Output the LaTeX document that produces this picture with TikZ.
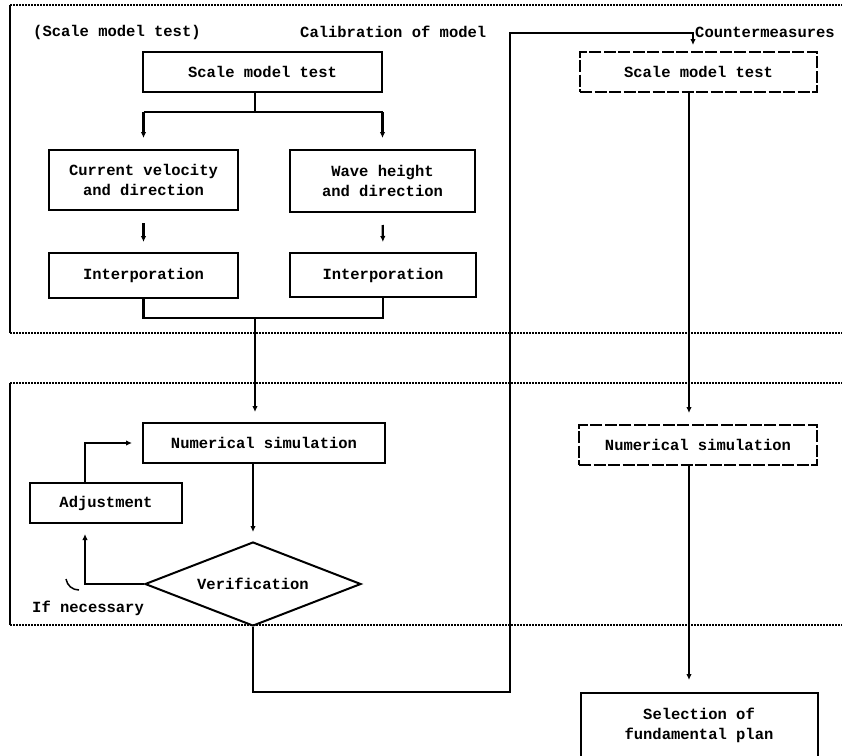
\documentclass[tikz,border=0pt]{standalone}
\usepackage{fontspec}
\setmonofont{Liberation Mono}
\usetikzlibrary{shapes.geometric,arrows.meta}
\tikzstyle{every node}=[font=\ttfamily\bfseries\fontsize{15.5}{20}\selectfont, align=center, inner sep=0pt]
\tikzstyle{box}=[draw, line width=2pt]
\tikzstyle{dbox}=[draw, line width=2pt, dash pattern=on 12pt off 2.5pt]
\tikzstyle{frame}=[line width=2pt, dash pattern=on 1.5pt off 1.5pt]
\tikzstyle{wire}=[line width=2.2pt]
\tikzstyle{arr}=[line width=2.2pt, -{Latex[length=6pt,width=5.5pt]}]

\begin{document}
\begin{tikzpicture}[x=1pt, y=-1pt]
\useasboundingbox (0,0) rectangle (842,755);
\clip (0,0) rectangle (842,755);
% Frames
    \draw[frame] (10,5) -- (842,5);
    \draw[frame] (10,333) -- (842,333);
    \draw[frame] (10,383) -- (842,383);
    \draw[frame] (10,625) -- (842,625);
    \draw[line width=2pt] (10,5) -- (10,333);
    \draw[line width=2pt] (10,383) -- (10,625);
% Headings
    \node[anchor=west] (hscale) at (33,32) {(Scale model test)};
    \node[anchor=west] (hcalib) at (300,32) {Calibration of model};
    \node[anchor=west] (hcount) at (695,32) {Countermeasures};
    \node[anchor=west] (hnec) at (32,608) {If necessary};
% Calibration boxes
    \node[box, minimum width=239pt, minimum height=40pt] (smt1) at (262.5,72) {Scale model test};
    \node[box, minimum width=189pt, minimum height=60pt] (cur) at (143.5,180) {Current velocity\\and direction};
    \node[box, minimum width=185pt, minimum height=62pt] (wave) at (382.5,181) {Wave height\\and direction};
    \node[box, minimum width=189pt, minimum height=45pt] (int1) at (143.5,275.5) {Interporation};
    \node[box, minimum width=186pt, minimum height=44pt] (int2) at (383,275) {Interporation};
    \node[box, minimum width=242pt, minimum height=40pt] (num1) at (264,443) {Numerical simulation};
    \node[box, minimum width=152pt, minimum height=40pt] (adj) at (106,503) {Adjustment};
    \node[box, diamond, aspect=2.57, minimum width=216pt, minimum height=84pt] (ver) at (253,584) {Verification};
% Countermeasure boxes
    \node[dbox, minimum width=237pt, minimum height=40pt] (smt2) at (698.5,72) {Scale model test};
    \node[dbox, minimum width=238pt, minimum height=40pt] (num2) at (698,445) {Numerical simulation};
    \node[box, minimum width=237pt, minimum height=64pt] (sel) at (699,725) {Selection of\\fundamental plan};
% Corners
    \coordinate (s1) at (255,112);
    \coordinate (m1) at (255,318);
    \coordinate (a1) at (85,584);
    \coordinate (a2) at (85,443);
    \coordinate (b1) at (253,692);
    \coordinate (b2) at (510,692);
    \coordinate (b3) at (510,33);
    \coordinate (b4) at (693,33);
    \coordinate (rc) at (689,0);
% Connectors
    \draw[wire] (smt1.south -| s1) -- (s1);
    \draw[wire] (cur.north |- s1) -- (wave.north |- s1);
    \draw[arr, shorten >=11pt] (cur.north |- s1) -- (cur.north);
    \draw[arr, shorten >=11pt] (wave.north |- s1) -- (wave.north);
    \draw[arr, shorten <=12pt, shorten >=10pt] (cur.south) -- (int1.north);
    \draw[arr, shorten <=12pt, shorten >=10pt] (wave.south) -- (int2.north);
    \draw[wire] (int1.south) -- (int1.south |- m1) -- (int2.south |- m1) -- (int2.south);
    \draw[arr, shorten >=10pt] (m1) -- (num1.north -| m1);
    \draw[arr, shorten >=9pt] (ver.north |- num1.south) -- (ver.north);
    \draw[arr, shorten >=10pt] (ver.west) -- (a1) -- (adj.south -| a1);
    \draw[arr, shorten >=10pt] (adj.north -| a2) -- (a2) -- (num1.west);
    \draw[line width=1.5pt] (66,579) to[bend right=40] (79,590);
    \draw[arr, shorten >=6pt] (ver.south) -- (b1) -- (b2) -- (b3) -- (b4) -- (smt2.north -| b4);
    \draw[arr, shorten >=11pt] (smt2.south -| rc) -- (num2.north -| rc);
    \draw[arr, shorten >=12pt] (num2.south -| rc) -- (sel.north -| rc);
\end{tikzpicture}
\end{document}
